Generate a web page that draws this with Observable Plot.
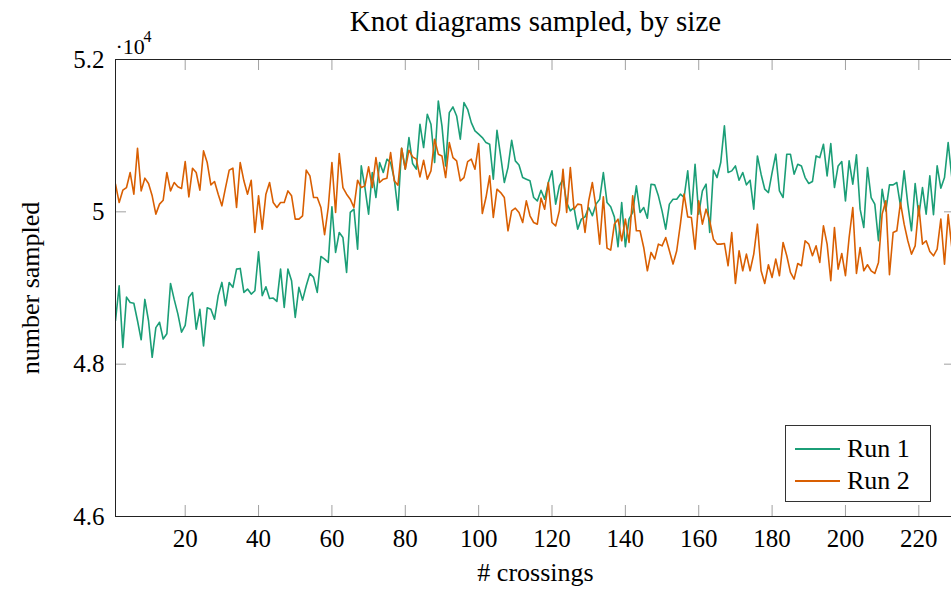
<!DOCTYPE html>
<html>
<head>
<meta charset="utf-8">
<script src="https://cdn.jsdelivr.net/npm/d3@7"></script>
<script src="https://cdn.jsdelivr.net/npm/@observablehq/plot@0.6"></script>
<style>
html, body { margin: 0; padding: 0; background: #fff; overflow: hidden; }
#wrap { position: relative; width: 960px; height: 589px; overflow: hidden; }
#wrap svg { max-width: none !important; }
#legend { position: absolute; left: 785px; top: 425px; width: 144px; height: 75px;
  border: 1px solid #333; background: #fff; font-family: "Liberation Serif", serif; font-size: 26px; color: #000; }
.row { position: absolute; left: 0; height: 30px; width: 144px; }
.sw { position: absolute; left: 9px; width: 45px; height: 2px; top: 14px; }
.lb { position: absolute; left: 61px; top: 0px; line-height: 30px; white-space: nowrap; }
</style>
</head>
<body>
<div id="wrap"></div>
<script>
const titleText = "Knot diagrams sampled, by size";
const xLabel = "# crossings";
const yLabel = "number sampled";
const yMultiplierBase = "·10";
const yMultiplierExp = "4";
const seriesNames = ["Run 1", "Run 2"];
const seriesColors = ["#1b9e77", "#d95f02"];
const xTicks = [20, 40, 60, 80, 100, 120, 140, 160, 180, 200, 220];
const yTicks = [46000, 48000, 50000, 52000];

const run1 = [48570,49030,48220,48880,48810,48800,48570,48320,48850,48570,
48090,48480,48550,48330,48400,49060,48850,48660,48420,48510,
48880,48940,48460,48720,48240,48740,48720,48590,48900,49073,
48767,49073,49008,49248,49257,48942,48986,48920,48964,49475,
48898,49016,48863,48868,48824,49248,48745,49248,49095,48614,
49008,48841,49030,49191,49139,48942,49414,49379,49336,50066,
49467,49729,49663,49205,49992,50035,49510,50603,50319,49970,
50516,50188,50647,50516,50691,50647,50429,50022,50835,50560,
50975,50634,50560,51150,50844,51281,51150,50647,51456,51128,
50603,51303,51377,51259,50953,51434,51346,51171,51062,51019,
50975,50909,50888,50429,51071,50734,50385,50581,50940,50669,
50616,50450,50429,50407,50188,50144,50284,50166,50385,50538,
50101,50341,50429,50122,50013,50057,49773,49904,49934,50057,
49948,50101,50166,50516,50122,50066,49934,49541,50122,49541,
49904,49992,50341,49992,50057,49917,50363,50354,50210,50013,
49773,50101,50166,50166,50232,50188,50538,49970,50625,49970,
50275,50363,49729,50547,50450,50647,51128,50516,50538,50603,
50415,50516,50354,50415,50035,50734,50494,50297,50253,50516,
50757,50275,50188,50757,50757,50494,50625,50603,50450,50372,
50398,50734,50712,50888,50472,50896,50319,50603,50660,50144,
50669,50363,50748,50035,49794,50581,50188,50101,49620,50297,
50013,50354,50354,50385,50079,50538,50101,49751,50372,49948,
50319,49970,50472,49963,50603,50310,50450,50909,50450];

const run2 = [50363,50122,50284,50319,50516,50232,50835,50275,50442,50372,
50210,49970,50101,50153,50516,50275,50385,50328,50306,50660,
50197,50573,50516,50284,50800,50647,50354,50398,50232,50079,
50319,50547,50573,50057,50647,50407,50232,50415,49729,50210,
49773,50232,50385,50122,50057,50122,50122,50275,50210,49904,
49904,49948,50547,50472,50188,50188,50057,49700,50057,50647,
49992,50765,50319,50232,50166,50057,50415,50319,50341,50590,
50319,50713,50385,50429,50442,50779,50407,50350,50835,50560,
50809,50722,50691,50459,50678,50429,50538,50953,50757,50734,
50450,50909,50712,50669,50407,50450,50660,50691,50560,50896,
49978,50188,50472,49926,50297,50253,50188,49751,50013,50048,
49992,49860,50144,49948,49860,49838,50180,50035,50385,49860,
49816,50013,50560,49992,50581,50035,50101,50092,49729,50144,
50385,50057,49576,50197,49524,49497,49838,49904,49620,49904,
49598,50210,49751,49751,49532,49226,49467,49379,49576,49554,
49663,49489,49314,49489,49838,50232,49934,49926,49510,50144,
49838,50035,49882,49641,49576,49576,49585,49292,49729,49060,
49489,49226,49445,49226,49445,49838,49226,49060,49305,49139,
49379,49161,49598,49423,49205,49117,49322,49292,49620,49576,
49423,49554,49336,49816,49576,49095,49794,49248,49453,49161,
49663,50057,49191,49532,49226,49305,49226,49191,49336,49970,
50144,49174,49729,49751,50122,49838,49620,49445,49554,50079,
49576,49620,49480,49423,49510,49904,49314,49963,49532];

const data = [];
run1.forEach((v, i) => data.push({n: i + 1, v, s: seriesNames[0]}));
run2.forEach((v, i) => data.push({n: i + 1, v, s: seriesNames[1]}));

const W = 960, H = 589;
const mt = 59, mb = 73, ml = 115, mr = 5;
const innerH = H - mt - mb;
const innerW = W - ml - mr;
const tickLen = 11;
const tickColor = "#a0a0a0";

const chart = Plot.plot({
  width: W, height: H,
  marginTop: mt, marginBottom: mb, marginLeft: ml, marginRight: mr,
  style: {fontFamily: "'Liberation Serif', serif", fontSize: "25px", background: "#fff", color: "#000"},
  x: {domain: [1, 230]},
  y: {domain: [46000, 52000]},
  color: {domain: seriesNames, range: seriesColors},
  marks: [
    Plot.tickX(xTicks, {x: d => d, insetTop: innerH - tickLen, stroke: tickColor}),
    Plot.tickX(xTicks, {x: d => d, insetBottom: innerH - tickLen, stroke: tickColor}),
    Plot.tickY(yTicks, {y: d => d, insetRight: innerW - tickLen, stroke: tickColor}),
    Plot.tickY(yTicks, {y: d => d, insetLeft: innerW - tickLen, stroke: tickColor}),
    Plot.axisX({ticks: xTicks, tickSize: 0, tickPadding: 13, label: null, tickFormat: d => String(d)}),
    Plot.axisY({ticks: yTicks, tickSize: 0, tickPadding: 11, label: null, tickFormat: d => String(+(d / 1e4).toFixed(1))}),
    Plot.line(data, {x: "n", y: "v", z: "s", stroke: "s", strokeWidth: 1.6, clip: true}),
    Plot.frame({stroke: "#222", strokeWidth: 1}),
    Plot.text([titleText], {text: d => d, frameAnchor: "top", dy: -38, textAnchor: "middle", lineAnchor: "middle", fontSize: 29}),
    Plot.text([yMultiplierBase], {text: d => d, frameAnchor: "top-left", dx: 0, dy: -13, textAnchor: "start", lineAnchor: "middle", fontSize: 22}),
    Plot.text([yMultiplierExp], {text: d => d, frameAnchor: "top-left", dx: 28, dy: -23, textAnchor: "start", lineAnchor: "middle", fontSize: 16}),
    Plot.text([xLabel], {text: d => d, frameAnchor: "bottom", dy: 56, textAnchor: "middle", lineAnchor: "middle", fontSize: 26}),
    Plot.text([yLabel], {text: d => d, frameAnchor: "left", dx: -85, rotate: -90, textAnchor: "middle", lineAnchor: "middle", fontSize: 26})
  ]
});
chart.style.maxWidth = "none";

const wrap = document.getElementById("wrap");
wrap.appendChild(chart);

const legend = document.createElement("div");
legend.id = "legend";
seriesNames.forEach((name, i) => {
  const row = document.createElement("div");
  row.className = "row";
  row.style.top = (i === 0 ? 8 : 40) + "px";
  const sw = document.createElement("div");
  sw.className = "sw";
  sw.style.background = seriesColors[i];
  const lb = document.createElement("div");
  lb.className = "lb";
  lb.textContent = name;
  row.appendChild(sw);
  row.appendChild(lb);
  legend.appendChild(row);
});
wrap.appendChild(legend);
</script>
</body>
</html>
